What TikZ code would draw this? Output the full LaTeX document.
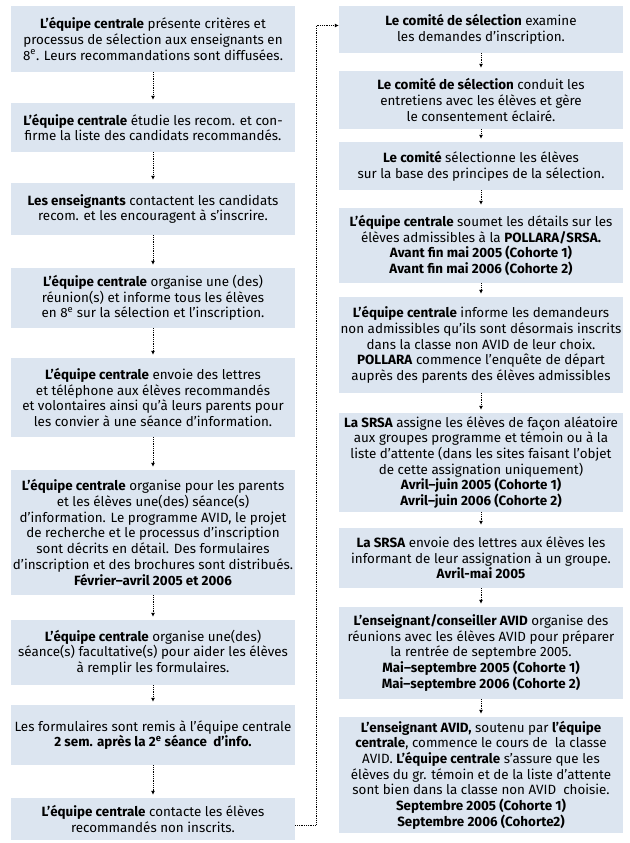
\documentclass[tikz,border=0pt]{standalone}
\usepackage{fontspec}
\setmainfont{Fira Sans}
\usetikzlibrary{arrows.meta}
\definecolor{boxblue}{RGB}{220,229,240}

\begin{document}
\begin{tikzpicture}[x=1pt,y=1pt,
  stepbox/.style={fill=boxblue,minimum width=284pt,inner sep=0pt,align=center,
    font=\fontsize{13.4}{15.7}\selectfont},
  flow/.style={densely dotted,line width=0.8pt,-{Latex[length=4pt,width=4pt]},shorten >=3pt}]
\useasboundingbox (0,0) rectangle (629,-843);

% left column
\node[stepbox,minimum height=66pt] (l1) at (153,-39) {\textbf{L’équipe centrale} présente critères et\\processus de sélection aux enseignants en\\8\textsuperscript{e}. Leurs recommandations sont diffusées.};
\node[stepbox,minimum height=49pt] (l2) at (153,-127.5) {\textbf{L’équipe centrale} étudie les recom. et con-\\firme la liste des candidats recommandés.};
\node[stepbox,minimum height=52pt] (l3) at (153,-209) {\textbf{Les enseignants} contactent les candidats\\recom. et les encouragent à s’inscrire.};
\node[stepbox,minimum height=60pt] (l4) at (153,-298) {\textbf{L’équipe centrale} organise une (des)\\réunion(s) et informe tous les élèves\\en 8\textsuperscript{e} sur la sélection et l’inscription.};
\node[stepbox,minimum height=79pt] (l5) at (153,-397.5) {\textbf{L’équipe centrale} envoie des lettres\\et téléphone aux élèves recommandés\\et volontaires ainsi qu’à leurs parents pour\\les convier à une séance d’information.};
\node[stepbox,minimum height=125pt] (l6) at (153,-532.5) {\textbf{L’équipe centrale} organise pour les parents\\et les élèves une(des) séance(s)\\d’information. Le programme AVID, le projet\\de recherche et le processus d’inscription\\sont décrits en détail. Des formulaires\\d’inscription et des brochures sont distribués.\\\textbf{Février–avril 2005 et 2006}};
\node[stepbox,minimum height=65pt] (l7) at (153,-652.5) {\textbf{L’équipe centrale} organise une(des)\\séance(s) facultative(s) pour aider les élèves\\à remplir les formulaires.};
\node[stepbox,minimum height=60pt] (l8) at (153,-735) {Les formulaires sont remis à l’équipe centrale\\\textbf{2 sem. après la 2\textsuperscript{e} séance\ \ d’info.}};
\node[stepbox,minimum height=42pt] (l9) at (153,-819) {\textbf{L’équipe centrale} contacte les élèves\\recommandés non inscrits.};

% right column
\node[stepbox,minimum height=47pt] (r1) at (481,-29.5) {\textbf{Le comité de sélection} examine\\les demandes d’inscription.};
\node[stepbox,minimum height=58pt] (r2) at (481,-100) {\textbf{Le comité de sélection} conduit les\\entretiens avec les élèves et gère\\le consentement éclairé.};
\node[stepbox,minimum height=48pt] (r3) at (481,-166) {\textbf{Le comité} sélectionne les élèves\\sur la base des principes de la sélection.};
\node[stepbox,minimum height=75pt] (r4) at (481,-245.5) {\textbf{L’équipe centrale} soumet les détails sur les\\élèves admissibles à la \textbf{POLLARA/SRSA.}\\\textbf{Avant fin mai 2005 (Cohorte 1)}\\\textbf{Avant fin mai 2006 (Cohorte 2)}};
\node[stepbox,minimum height=96pt] (r5) at (481,-345) {\textbf{L’équipe centrale} informe les demandeurs\\non admissibles qu’ils sont désormais inscrits\\dans la classe non AVID de leur choix.\\\textbf{POLLARA} commence l’enquête de départ\\auprès des parents des élèves admissibles};
\node[stepbox,minimum height=99pt] (r6) at (481,-462.5) {\textbf{La SRSA} assigne les élèves de façon aléatoire\\aux groupes programme et témoin ou à la\\liste d’attente (dans les sites faisant l’objet\\de cette assignation uniquement)\\\textbf{Avril–juin 2005 (Cohorte 1)}\\\textbf{Avril–juin 2006 (Cohorte 2)}};
\node[stepbox,minimum height=60pt] (r7) at (481,-558) {\textbf{La SRSA} envoie des lettres aux élèves les\\informant de leur assignation à un groupe.\\\textbf{Avril-mai 2005}};
\node[stepbox,minimum height=92pt] (r8) at (481,-653) {\textbf{L’enseignant/conseiller AVID} organise des\\réunions avec les élèves AVID pour préparer\\la rentrée de septembre 2005.\\\textbf{Mai–septembre 2005 (Cohorte 1)}\\\textbf{Mai–septembre 2006 (Cohorte 2)}};
\node[stepbox,minimum height=116pt] (r9) at (481,-775) {\textbf{L’enseignant AVID,} soutenu par \textbf{l’équipe}\\\textbf{centrale}, commence le cours de\ \ la classe\\AVID. \textbf{L’équipe centrale} s’assure que les\\élèves du gr. témoin et de la liste d’attente\\sont bien dans la classe non AVID\ \ choisie.\\\textbf{Septembre 2005 (Cohorte 1)}\\\textbf{Septembre 2006 (Cohorte2)}};

% dotted arrows, left column
\draw[flow] (l1) -- (l2);
\draw[flow] (l2) -- (l3);
\draw[flow] (l3) -- (l4);
\draw[flow] (l4) -- (l5);
\draw[flow] (l5) -- (l6);
\draw[flow] (l6) -- (l7);
\draw[flow] (l7) -- (l8);
\draw[flow] (l8) -- (l9);

% dotted arrows, right column
\draw[flow] (r1) -- (r2);
\draw[flow] (r2) -- (r3);
\draw[flow] (r3) -- (r4);
\draw[flow] (r4) -- (r5);
\draw[flow] (r5) -- (r6);
\draw[flow] (r6) -- (r7);
\draw[flow] (r7) -- (r8);
\draw[flow] (r8) -- (r9);

% back to the top of the right column
\draw[flow,shorten >=0pt] ([yshift=-6pt]l9.east) -- ++(21,0) |- ([yshift=4pt]r1.west);
\end{tikzpicture}
\end{document}
